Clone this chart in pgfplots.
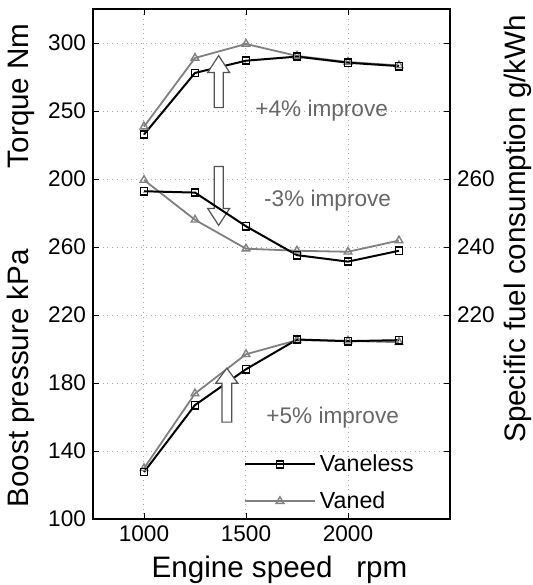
\documentclass[border=0pt]{standalone}
\usepackage{fontspec}
\setmainfont{Liberation Sans}
\usepackage{pgfplots}
\pgfplotsset{compat=1.18}
\definecolor{vgray}{rgb}{0.5,0.5,0.5}
\definecolor{tgray}{rgb}{0.4,0.4,0.4}
\begin{document}
\begin{tikzpicture}
\pgfplotsset{
  base/.style={
    scale only axis, width=178.5pt, height=255pt,
    xmin=750, xmax=2500,
    scaled x ticks=false, scaled y ticks=false,
    /pgf/number format/assume math mode=true,
    /pgf/number format/1000 sep={},
    ticklabel style={font=\fontsize{11.3}{13}\selectfont},
    label style={font=\fontsize{14.8}{17}\selectfont},
    tick style={black, thin}, major tick length=3pt,
    axis line style={black, line width=0.6pt},
    grid style={gray!70, dotted, line width=0.5pt},
  },
  vl/.style={black, line width=1pt, mark=square, mark size=1.8pt,
    mark options={solid, fill=white, line width=0.8pt}},
  vd/.style={vgray, line width=0.9pt, mark=triangle, mark size=2.2pt,
    mark options={solid, fill=white, line width=0.7pt}},
}
% torque
\begin{axis}[base, name=ax,
  ymin=-50, ymax=325,
  xtick={1000,1500,2000}, ytick={200,250,300},
  grid=major,
  xlabel={Engine speed\hspace{0.8em}rpm},
  xlabel style={xshift=4pt},
  ylabel={Torque Nm},
  ylabel style={at={(ticklabel cs:0.83)}},
]
\addplot[vd] coordinates {(1000,238.5) (1250,289) (1500,299.3) (1750,290.5) (2000,286) (2250,283.5)};
\addplot[vl] coordinates {(1000,232.7) (1250,278) (1500,287) (1750,290) (2000,285.5) (2250,283)};
\end{axis}
% boost pressure
\begin{axis}[base,
  ymin=100, ymax=400,
  xtick={1000,1500,2000}, xticklabels={},
  ytick={100,140,180,220,260},
  ymajorgrids,
  ylabel={Boost pressure kPa},
  ylabel style={at={(ticklabel cs:0.276)}},
  reverse legend,
  legend cell align=left,
  legend style={draw=none, fill=none, at={(rel axis cs:0.405,0.143)}, anchor=north west,
    row sep=4.5pt, font=\fontsize{11.6}{13}\selectfont},
  legend image code/.code={\draw[mark repeat=2, mark phase=2, #1] plot coordinates {(0pt,0pt) (17.5pt,0pt) (35pt,0pt)};},
]
\addplot[vd] coordinates {(1000,129.8) (1250,173.8) (1500,196.9) (1750,205.2) (2000,204.8) (2250,204)};
\addlegendentry{Vaned}
\addplot[vl] coordinates {(1000,127.6) (1250,167) (1500,188.1) (1750,205.6) (2000,204.6) (2250,205.2)};
\addlegendentry{Vaneless}
% annotations
\draw[tgray!80!black, fill=white, line width=0.6pt] (axis cs:1344,342)--(axis cs:1344,362.6)--(axis cs:1312,362.6)--(axis cs:1366,372.6)--(axis cs:1420,362.6)--(axis cs:1388,362.6)--(axis cs:1388,342)--cycle;
\draw[tgray!80!black, fill=white, line width=0.6pt] (axis cs:1344,307.4)--(axis cs:1344,282.7)--(axis cs:1312,282.7)--(axis cs:1366,272.7)--(axis cs:1420,282.7)--(axis cs:1388,282.7)--(axis cs:1388,307.4)--cycle;
\draw[tgray!80!black, fill=white, line width=0.6pt] (axis cs:1382,157)--(axis cs:1382,179.9)--(axis cs:1352,179.9)--(axis cs:1406,188.7)--(axis cs:1460,179.9)--(axis cs:1430,179.9)--(axis cs:1430,157)--cycle;
\node[tgray, font=\fontsize{11.3}{13}\selectfont] at (axis cs:1871,340.2) {+4\% improve};
\node[tgray, font=\fontsize{11.3}{13}\selectfont] at (axis cs:1900,287.4) {-3\% improve};
\node[tgray, font=\fontsize{11.3}{13}\selectfont] at (axis cs:1925,159.9) {+5\% improve};
\end{axis}
% specific fuel consumption
\begin{axis}[base,
  ymin=160, ymax=310,
  hide x axis,
  axis y line*=right,
  ytick={220,240,260},
  ylabel={Specific fuel consumption g/kWh},
  ylabel style={at={(ticklabel cs:0.569,-2pt)}},
]
\addplot[vd] coordinates {(1000,259.7) (1250,248) (1500,239.5) (1750,238.9) (2000,238.6) (2250,241.9)};
\addplot[vl] coordinates {(1000,256.4) (1250,256) (1500,246.1) (1750,237.6) (2000,235.7) (2250,238.9)};
\end{axis}
\pgfresetboundingbox
\path (ax.south west) ++(-46.5pt,-33pt) rectangle ++(266.5pt,292.5pt);
\end{tikzpicture}
\end{document}
